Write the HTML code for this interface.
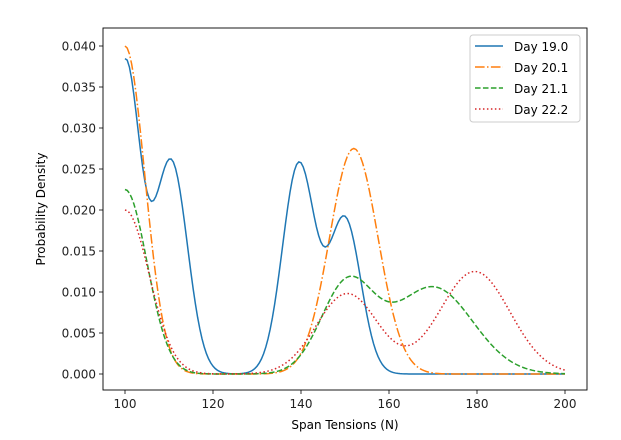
<!DOCTYPE html>
<html><head><meta charset="utf-8"><style>body{margin:0;background:#fff}svg{display:block;font-family:"DejaVu Sans","Liberation Sans",sans-serif}</style></head>
<body>
<svg id="s" width="621" height="440" xmlns="http://www.w3.org/2000/svg">
<rect width="621" height="440" fill="#fff"/>
<g id="curves"></g>
<rect x="103" y="28" width="484" height="362" fill="none" stroke="#000" stroke-width="0.9"/>
<g id="ticks" font-size="12" fill="#222"></g>
<text x="345" y="429" font-size="12" text-anchor="middle">Span Tensions (N)</text>
<text transform="translate(45,209) rotate(-90)" font-size="12" text-anchor="middle">Probability Density</text>
<g>
<rect x="470" y="35" width="110" height="87" rx="3" fill="#fff" fill-opacity="0.8" stroke="#ccc"/>
<line x1="475" y1="46" x2="503" y2="46" stroke="#1f77b4" stroke-width="1.5"/>
<line x1="475" y1="67" x2="503" y2="67" stroke="#ff7f0e" stroke-width="1.5" stroke-dasharray="9.6,2.4,1.5,2.4"/>
<line x1="475" y1="88" x2="503" y2="88" stroke="#2ca02c" stroke-width="1.5" stroke-dasharray="5.55,2.4"/>
<line x1="475" y1="109" x2="503" y2="109" stroke="#d62728" stroke-width="1.5" stroke-dasharray="1.5,2.475"/>
<text x="514" y="51" font-size="12">Day 19.0</text>
<text x="514" y="72" font-size="12">Day 20.1</text>
<text x="514" y="93" font-size="12">Day 21.1</text>
<text x="514" y="114" font-size="12">Day 22.2</text>
</g>
</svg>
<script>
var NS="http://www.w3.org/2000/svg";
function X(v){return 125+(v-100)*4.4}
function Y(v){return 374-v*8200}
var series=[
 ["#1f77b4","",[[100,0.038,3.5],[110.5,0.0258,3.7],[139.5,0.0256,3.7],[150,0.0188,3.6]]],
 ["#ff7f0e","9.6,2.4,1.5,2.4",[[100,0.040,4.5],[152,0.0275,5.5]]],
 ["#2ca02c","5.55,2.4",[[100,0.0225,5],[150.5,0.0108,6],[170,0.0106,9]]],
 ["#d62728","1.5,2.475",[[100,0.020,5.5],[150.5,0.0098,7],[179.5,0.0125,8]]]
];
var g=document.getElementById("curves");
series.forEach(function(s){
 var d="";
 for(var x=100;x<=200.001;x+=0.5){var y=0;s[2].forEach(function(c){y+=c[1]*Math.exp(-(x-c[0])*(x-c[0])/(2*c[2]*c[2]))});
 d+=(x==100?"M":"L")+X(x).toFixed(2)+","+Y(y).toFixed(2);}
 var p=document.createElementNS(NS,"path");p.setAttribute("d",d);p.setAttribute("fill","none");
 p.setAttribute("stroke",s[0]);p.setAttribute("stroke-width","1.5");if(s[1])p.setAttribute("stroke-dasharray",s[1]);g.appendChild(p);
});
var t=document.getElementById("ticks"),h="";
for(var v=100;v<=200;v+=20){var x=X(v);h+='<line x1="'+x+'" y1="390" x2="'+x+'" y2="394" stroke="#000" stroke-width="0.8"/><text x="'+x+'" y="408" text-anchor="middle">'+v+'</text>';}
for(var i=0;i<=8;i++){var val=i*0.005,y=Y(val);h+='<line x1="99" y1="'+y+'" x2="103" y2="'+y+'" stroke="#000" stroke-width="0.8"/><text x="96" y="'+(y+4.5)+'" text-anchor="end">'+val.toFixed(3)+'</text>';}
t.innerHTML=h;
</script>
</body></html>
